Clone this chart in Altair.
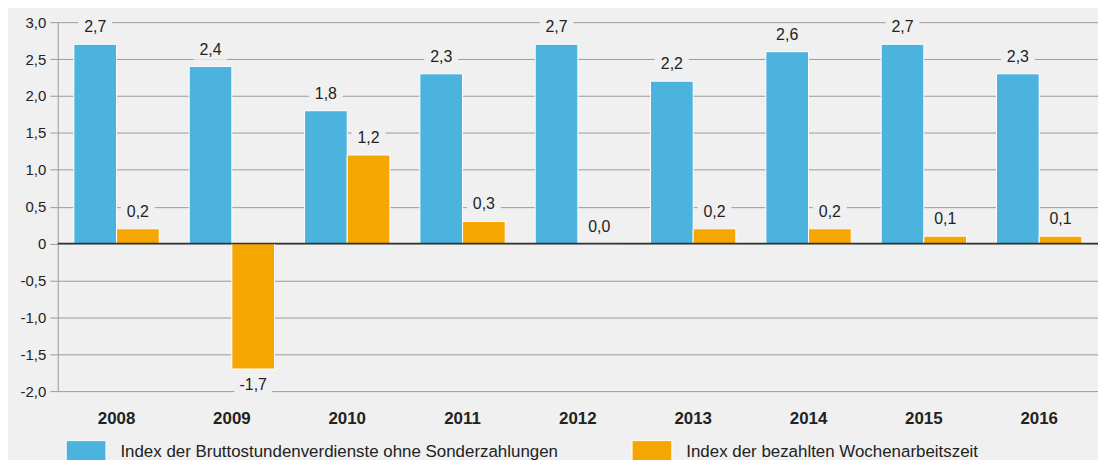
import altair as alt
import pandas as pd

years = ["2008", "2009", "2010", "2011", "2012", "2013", "2014", "2015", "2016"]
brutto = [2.7, 2.4, 1.8, 2.3, 2.7, 2.2, 2.6, 2.7, 2.3]
wochen = [0.2, -1.7, 1.2, 0.3, 0.0, 0.2, 0.2, 0.1, 0.1]
series = ["Index der Bruttostundenverdienste ohne Sonderzahlungen",
          "Index der bezahlten Wochenarbeitszeit"]
colors = ["#4bb3de", "#f5a600"]
y_ticks = [-2.0, -1.5, -1.0, -0.5, 0.0, 0.5, 1.0, 1.5, 2.0, 2.5, 3.0]

rows = []
for i, y in enumerate(years):
    rows.append({"year": y, "series": series[0], "value": brutto[i]})
    rows.append({"year": y, "series": series[1], "value": wochen[i]})
df = pd.DataFrame(rows)

BG = "#f0f0f0"
FONT = "Liberation Sans"

xenc = alt.X("year:N", sort=years,
             scale=alt.Scale(paddingInner=0.26, paddingOuter=0.14),
             axis=alt.Axis(title=None, domain=False, ticks=False, labelAngle=0,
                           labelFontSize=17, labelFontWeight="bold", labelColor="#222",
                           labelPadding=20, grid=False))
yscale = alt.Scale(domain=[-2, 3], nice=False)
yenc = alt.Y("value:Q", scale=yscale,
             axis=alt.Axis(title=None, values=y_ticks, grid=True, gridColor="#9a9a9a",
                           domainColor="#9a9a9a", tickColor="#9a9a9a", tickSize=8,
                           labelOverlap=False, labelFlush=False,
                           labelFontSize=15, labelColor="#222", labelPadding=4,
                           labelExpr="datum.value == 0 ? '0' : replace(replace(format(datum.value, '.1f'), '.', ','), '\u2212', '-')"))
color = alt.Color("series:N", sort=series,
                  scale=alt.Scale(domain=series, range=colors),
                  legend=alt.Legend(title=None, orient="none", legendX=8, legendY=411,
                                    direction="horizontal", padding=0,
                                    symbolType="M-1,-0.55H1V0.55H-1Z", symbolSize=1600,
                                    symbolStrokeColor="white", symbolStrokeWidth=1,
                                    symbolOpacity=1,
                                    labelFontSize=17, labelColor="#222", labelFont=FONT,
                                    labelOffset=14, columnPadding=71, labelLimit=700))
xoff = alt.XOffset("series:N", sort=series, scale=alt.Scale(paddingInner=0, paddingOuter=0))
xplain = alt.X("year:N", sort=years)

base = alt.Chart(df)

bars = base.mark_bar(stroke="white", strokeWidth=1).encode(
    x=xenc, y=yenc, color=color, xOffset=xoff)

lab_text = "replace(replace(format(datum.value, '.1f'), '.', ','), '\u2212', '-')"
labeled = base.transform_calculate(lab=lab_text)

pos = labeled.transform_filter("datum.value >= 0")
neg = labeled.transform_filter("datum.value < 0")

box_shape = "M-1,-0.6H1V0.6H-1Z"
pos_box = pos.mark_point(shape=box_shape, filled=True, fill=BG, stroke=None,
                         size=1156, opacity=1, yOffset=-17).encode(
    x=xplain, y=yenc, xOffset=xoff)
neg_box = neg.mark_point(shape=box_shape, filled=True, fill=BG, stroke=None,
                         size=1444, opacity=1, yOffset=16).encode(
    x=xplain, y=yenc, xOffset=xoff)
pos_txt = pos.mark_text(dy=-17, fontSize=16, color="#222", font=FONT,
                        baseline="middle").encode(
    x=xplain, y=yenc, xOffset=xoff, text="lab:N")
neg_txt = neg.mark_text(dy=16, fontSize=16, color="#222", font=FONT,
                        baseline="middle").encode(
    x=xplain, y=yenc, xOffset=xoff, text="lab:N")

zero = alt.Chart(pd.DataFrame({"value": [0]})).mark_rule(color="#333", strokeWidth=1.5).encode(
    y=yenc)

chart = alt.layer(bars, pos_box, neg_box, pos_txt, neg_txt, zero).properties(
    width=1046, height=371,
    autosize=alt.AutoSizeParams(type="none"),
    padding={"left": 50, "top": 13, "right": 0, "bottom": 68},
    background=BG,
).configure_view(stroke=None).configure_axis(labelFont=FONT)

chart.save("out.html", embed_options={"renderer": "svg", "actions": False})
